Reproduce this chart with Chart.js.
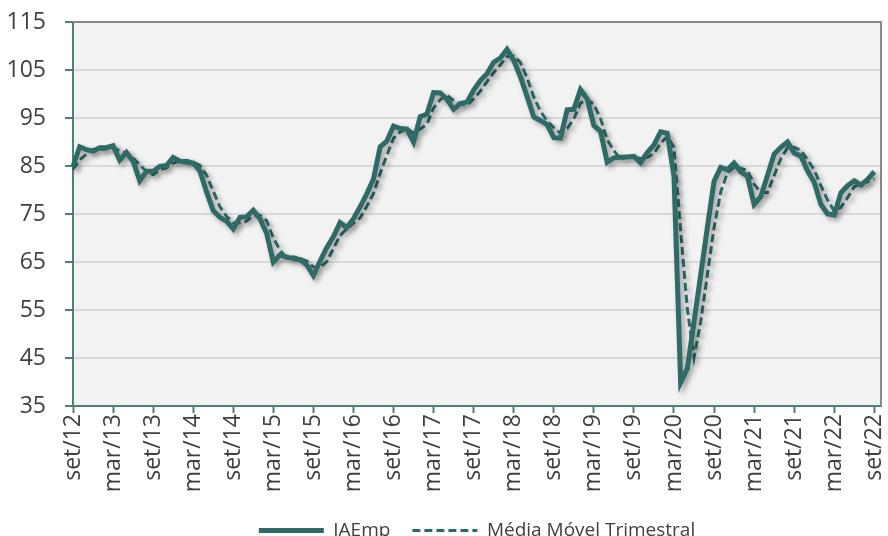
<!DOCTYPE html>
<html>
<head>
<meta charset="utf-8">
<script src="https://cdn.jsdelivr.net/npm/chart.js@4.4.1/dist/chart.umd.min.js"></script>
<style>
  html, body { margin: 0; padding: 0; background: #fff; overflow: hidden; }
  #wrap { width: 888px; height: 550px; }
</style>
</head>
<body>
<div id="wrap"><canvas id="chart" width="888" height="550"></canvas></div>
<script>
// month names used on the axis (set/12 ... set/22, plus one empty slot at the end)
const monthNames = ['jan', 'fev', 'mar', 'abr', 'mai', 'jun', 'jul', 'ago', 'set', 'out', 'nov', 'dez'];
const categories = [];
for (let k = 0; k < 122; k++) {
  const m = (8 + k) % 12;
  const yr = 12 + Math.floor((8 + k) / 12);
  categories.push(monthNames[m] + '/' + yr);
}

const yTicks = [35, 45, 55, 65, 75, 85, 95, 105, 115];

// IAEmp, monthly, set/12 to set/22
const iaemp = [
  84.9, 89.0, 88.4, 88.1, 88.8, 88.8, 89.2, 86.2, 87.8, 86.0,
  81.9, 83.9, 83.9, 84.9, 85.1, 86.8, 86.0, 85.8, 85.6, 84.0,
  79.6, 75.7, 74.3, 73.5, 71.9, 74.3, 74.4, 75.8, 74.0, 71.0,
  65.0, 66.5, 66.0, 65.7, 65.5, 64.4, 62.2, 65.2, 68.0, 70.3,
  73.2, 72.2, 74.0, 76.5, 79.2, 82.3, 89.0, 90.2, 93.3, 92.8,
  92.7, 90.0, 95.3, 95.8, 100.3, 100.2, 98.9, 96.8, 98.0, 98.3,
  100.8, 102.8, 104.2, 106.6, 107.5, 109.3, 107.0, 103.6, 99.5, 95.2,
  94.5, 93.6, 90.9, 90.8, 96.7, 96.8, 100.9, 99.0, 93.4, 92.2,
  85.8, 86.7, 86.8, 86.9, 87.0, 85.7, 87.8, 89.4, 92.1, 91.8,
  82.9, 39.9, 42.8, 52.5, 62.3, 72.2, 81.8, 84.7, 84.2, 85.6,
  83.8, 82.9, 77.0, 78.6, 83.0, 87.5, 88.9, 90.0, 87.7, 87.1,
  84.0, 81.6, 77.0, 75.0, 74.8, 79.4, 80.9, 81.9, 81.0, 82.2,
  83.8
];

// Média Móvel Trimestral
const mediaMovel = [
  84.3, 86.3, 87.4, 88.5, 88.4, 88.6, 88.9, 88.1, 87.7, 86.7,
  85.2, 83.9, 83.2, 84.2, 84.6, 85.6, 86.0, 86.2, 85.8, 85.1,
  83.1, 79.8, 76.5, 74.5, 73.2, 73.2, 73.5, 74.8, 74.7, 73.6,
  70.0, 67.5, 65.8, 66.1, 65.7, 65.2, 64.0, 63.9, 65.1, 67.8,
  70.5, 71.9, 73.1, 74.2, 76.6, 79.3, 83.5, 87.2, 90.8, 92.1,
  92.9, 91.8, 92.7, 93.7, 97.1, 98.8, 99.8, 98.6, 97.9, 97.7,
  99.0, 100.6, 102.6, 104.5, 106.1, 107.8, 107.9, 106.6, 103.4, 99.4,
  96.4, 94.4, 93.0, 91.8, 92.8, 94.8, 98.1, 98.9, 97.8, 94.9,
  90.5, 88.2, 86.4, 86.8, 86.9, 86.5, 86.8, 87.6, 89.8, 91.1,
  88.9, 71.5, 55.2, 45.1, 52.5, 62.3, 72.1, 79.6, 83.6, 84.8,
  84.5, 84.1, 81.2, 79.5, 79.5, 83.0, 86.5, 88.8, 88.9, 88.3,
  86.3, 84.2, 80.9, 77.9, 75.6, 76.4, 78.4, 80.7, 81.3, 81.7,
  82.3
];

const teal = '#2e6a66';
const axisColor = '#4f7f7b';
const textColor = '#404040';
const fontFamily = "'Open Sans', 'Noto Sans', sans-serif";

// gray plot background, gray frame on top/right, soft shadow under the lines
const plotPlugin = {
  id: 'plotArea',
  beforeDraw(chart) {
    const { ctx, chartArea: a } = chart;
    ctx.save();
    ctx.fillStyle = '#f2f2f2';
    ctx.fillRect(a.left, a.top, a.right - a.left, a.bottom - a.top);
    ctx.restore();
  },
  beforeDatasetsDraw(chart) {
    const { ctx, chartArea: a } = chart;
    ctx.save();
    ctx.strokeStyle = '#898989';
    ctx.lineWidth = 2;
    ctx.beginPath();
    ctx.moveTo(a.left, a.top);
    ctx.lineTo(a.right, a.top);
    ctx.lineTo(a.right, a.bottom);
    ctx.stroke();
    ctx.restore();

    ctx.save();
    ctx.shadowColor = 'rgba(0,0,0,0.35)';
    ctx.shadowBlur = 5;
    ctx.shadowOffsetX = 3;
    ctx.shadowOffsetY = 3;
  },
  afterDatasetsDraw(chart) {
    chart.ctx.restore();
  }
};

new Chart(document.getElementById('chart'), {
  type: 'line',
  data: {
    labels: categories,
    datasets: [
      {
        label: 'IAEmp',
        data: iaemp,
        borderColor: teal,
        backgroundColor: teal,
        borderWidth: 5,
        pointRadius: 0,
        tension: 0
      },
      {
        label: 'Média Móvel Trimestral',
        data: mediaMovel,
        borderColor: teal,
        backgroundColor: teal,
        borderWidth: 3,
        borderDash: [8, 4],
        pointRadius: 0,
        tension: 0
      }
    ]
  },
  options: {
    responsive: false,
    animation: false,
    layout: { padding: { top: 22, right: 7, left: 0, bottom: 0 } },
    plugins: {
      tooltip: { enabled: false },
      legend: {
        position: 'bottom',
        fullSize: false,
        labels: {
          usePointStyle: true,
          pointStyle: 'line',
          pointStyleWidth: 65,
          padding: 22,
          color: textColor,
          font: { family: fontFamily, size: 19 },
          // the point-style sample does not pick up the dash by itself
          generateLabels(chart) {
            const items = Chart.defaults.plugins.legend.labels.generateLabels(chart);
            items.forEach(item => {
              const ds = chart.data.datasets[item.datasetIndex];
              item.lineDash = ds.borderDash || [];
              item.lineWidth = ds.borderWidth;
              item.strokeStyle = ds.borderColor;
            });
            return items;
          }
        }
      }
    },
    scales: {
      x: {
        type: 'category',
        offset: false,
        border: { color: axisColor, width: 2 },
        grid: { drawOnChartArea: false, drawTicks: true, tickLength: 7, tickColor: axisColor, tickWidth: 2 },
        ticks: {
          autoSkip: false,
          minRotation: 90,
          maxRotation: 90,
          padding: 1,
          color: textColor,
          font: { family: fontFamily, size: 23 },
          callback: (v, i) => (i % 6 === 0 ? categories[i] : null)
        },
        afterFit: (s) => {
          s.height = 93;
          s.paddingLeft = 0;
          s.paddingRight = 0;
        }
      },
      y: {
        min: yTicks[0],
        max: yTicks[yTicks.length - 1],
        border: { color: axisColor, width: 2 },
        grid: { color: '#d9d9d9', lineWidth: 2, tickLength: 8, tickColor: axisColor, tickWidth: 2 },
        afterBuildTicks: (s) => { s.ticks = yTicks.map(v => ({ value: v })); },
        ticks: {
          padding: 19,
          color: textColor,
          font: { family: fontFamily, size: 23 }
        },
        afterFit: (s) => {
          s.width = 73;
          s.paddingTop = 0;
          s.paddingBottom = 0;
        }
      }
    }
  },
  plugins: [plotPlugin]
});
</script>
</body>
</html>
